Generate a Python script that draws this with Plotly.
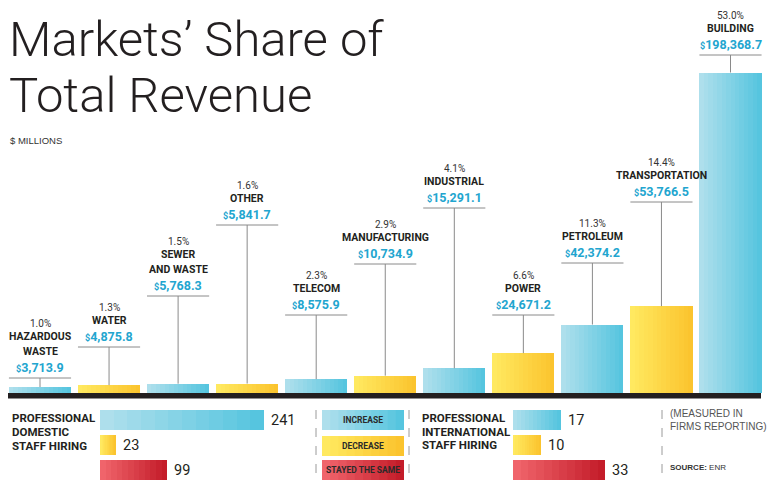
import plotly.graph_objects as go

# ---------------- data ----------------
markets = ["HAZARDOUS WASTE", "WATER", "SEWER AND WASTE", "OTHER", "TELECOM",
           "MANUFACTURING", "INDUSTRIAL", "POWER", "PETROLEUM", "TRANSPORTATION", "BUILDING"]
name_lines = [["HAZARDOUS", "WASTE"], ["WATER"], ["SEWER", "AND WASTE"], ["OTHER"], ["TELECOM"],
              ["MANUFACTURING"], ["INDUSTRIAL"], ["POWER"], ["PETROLEUM"], ["TRANSPORTATION"], ["BUILDING"]]
revenue = [3713.9, 4875.8, 5768.3, 5841.7, 8575.9, 10734.9, 15291.1, 24671.2, 42374.2, 53766.5, 198368.7]
share = [1.0, 1.3, 1.5, 1.6, 2.3, 2.9, 4.1, 6.6, 11.3, 14.4, 53.0]

hiring_rows = ["INCREASE", "DECREASE", "STAYED THE SAME"]
domestic = [241, 23, 99]
international = [17, 10, 33]

# ---------------- style / layout ----------------
W, H = 768, 486
BLUE = ("#56c5df", "#aedfec")   # (dark/right, light/left)
YEL = ("#fbc42e", "#ffe960")
RED = ("#c41d2a", "#f0646b")
palette = [BLUE if i % 2 == 0 else YEL for i in range(len(revenue))]
row_pal = [BLUE, YEL, RED]
CYAN = "#22a5cf"
INK = "#231f20"
COND = "Roboto, Liberation Sans, sans-serif"
SANS = "Liberation Sans, Arial, Helvetica, sans-serif"

BASE_PY, TOP_PY = 393.0, 72.5
S = max(revenue) / (BASE_PY - TOP_PY)
X0_PX, STEP = 40.0, 69.05
BW = 0.9
label_line_px = [378, 347, 296, 225, 315, 264, 208, 315, 263, 202, 55]


def mix(c1, c2, t):
    a = [int(c1[i:i + 2], 16) for i in (1, 3, 5)]
    b = [int(c2[i:i + 2], 16) for i in (1, 3, 5)]
    return "#" + "".join(f"{round(a[j] + (b[j] - a[j]) * t):02x}" for j in range(3))


def py_to_y(py):
    return (BASE_PY - py) * S


def px(x):
    return x / W


def py(y):
    return 1 - y / H


fig = go.Figure()
idx = list(range(len(revenue)))
N = 14
for k in range(N):
    frac = 1 - k / N
    t = k / (N - 1)
    fig.add_trace(go.Bar(
        x=idx, y=revenue, width=BW * frac, offset=-BW / 2,
        marker=dict(color=[mix(p[0], p[1], t) for p in palette], line=dict(width=0)),
        name="Revenue ($ millions)", showlegend=False,
        customdata=markets, hovertemplate="%{customdata}: $%{y:,.1f}M<extra></extra>",
        xaxis="x", yaxis="y"))

rows = [0, 1, 2]
NH = 12
for k in range(NH):
    frac = 1 - k / NH
    t = k / (NH - 1)
    cols = [mix(p[0], p[1], t) for p in row_pal]
    fig.add_trace(go.Bar(y=rows, x=[v * frac for v in domestic], orientation="h", width=0.8,
                         marker=dict(color=cols, line=dict(width=0)), showlegend=False,
                         name="Domestic", hoverinfo="skip", xaxis="x2", yaxis="y2"))
    fig.add_trace(go.Bar(y=rows, x=[v * frac for v in international], orientation="h", width=0.8,
                         marker=dict(color=cols, line=dict(width=0)), showlegend=False,
                         name="International", hoverinfo="skip", xaxis="x3", yaxis="y2"))

shapes = []
ann = []

# baseline
shapes.append(dict(type="rect", xref="paper", yref="paper", x0=px(8), x1=px(761),
                   y0=py(398.5), y1=py(393), fillcolor="#231f20", line=dict(width=0), layer="above"))

# leader lines + labels
for i, v in enumerate(revenue):
    L = label_line_px[i]
    yl = py_to_y(L)
    shapes.append(dict(type="line", xref="x", yref="y", x0=i - BW / 2, x1=i + BW / 2, y0=yl, y1=yl,
                       line=dict(color="#8a8a8a", width=1)))
    shapes.append(dict(type="line", xref="x", yref="y", x0=i, x1=i, y0=yl, y1=v,
                       line=dict(color="#8a8a8a", width=1)))
    ann.append(dict(x=i, y=py_to_y(L - 11), xref="x", yref="y", showarrow=False,
                    text="<span style='font-size:9px'>$</span>" + f"{v:,.1f}",
                    font=dict(family=COND, size=12.5, color=CYAN, weight="bold"),
                    xanchor="center", yanchor="middle"))
    lines = name_lines[i]
    ypos = L - 26.5
    for ln in reversed(lines):
        ann.append(dict(x=i, y=py_to_y(ypos), xref="x", yref="y", showarrow=False, text=ln,
                        font=dict(family=COND, size=10.5, color=INK, weight="bold"),
                        xanchor="center", yanchor="middle"))
        ypos -= 15
    ann.append(dict(x=i, y=py_to_y(ypos + 1.5), xref="x", yref="y", showarrow=False,
                    text=f"{share[i]:.1f}%",
                    font=dict(family=COND, size=10, color="#333333"),
                    xanchor="center", yanchor="middle"))

# title
TITLE_FONT = dict(family="Roboto, Liberation Sans, sans-serif", size=49, color=INK, weight=300)
ann.append(dict(x=px(7), y=py(40), xref="paper", yref="paper", showarrow=False,
                text="Markets’ Share of", xanchor="left", yanchor="middle", font=TITLE_FONT))
ann.append(dict(x=px(7), y=py(95), xref="paper", yref="paper", showarrow=False,
                text="Total Revenue", xanchor="left", yanchor="middle", font=TITLE_FONT))
ann.append(dict(x=px(8), y=py(140), xref="paper", yref="paper", showarrow=False,
                text="$ MILLIONS", xanchor="left", yanchor="middle",
                font=dict(family=SANS, size=9.5, color="#333333")))

# hiring section labels
for j, ln in enumerate(["PROFESSIONAL", "DOMESTIC", "STAFF HIRING"]):
    ann.append(dict(x=px(10), y=py(418 + 14 * j), xref="paper", yref="paper", showarrow=False,
                    text=ln, xanchor="left", yanchor="middle",
                    font=dict(family=COND, size=11.5, color=INK, weight="bold")))
for j, ln in enumerate(["PROFESSIONAL", "INTERNATIONAL", "STAFF HIRING"]):
    ann.append(dict(x=px(420), y=py(418 + 13.5 * j), xref="paper", yref="paper", showarrow=False,
                    text=ln, xanchor="left", yanchor="middle",
                    font=dict(family=COND, size=11.5, color=INK, weight="bold")))

for r, v in zip(rows, domestic):
    ann.append(dict(x=v, y=r, xref="x2", yref="y2", showarrow=False, text=str(v),
                    xanchor="left", yanchor="middle", xshift=5,
                    font=dict(family=COND, size=14.5, color=INK)))
for r, v in zip(rows, international):
    ann.append(dict(x=v, y=r, xref="x3", yref="y2", showarrow=False, text=str(v),
                    xanchor="left", yanchor="middle", xshift=5,
                    font=dict(family=COND, size=14.5, color=INK)))

# legend boxes
box_y = [(410, 430), (436, 456), (460, 480)]
NB = 10
for (y0, y1), pal, lab in zip(box_y, row_pal, hiring_rows):
    for k in range(NB):
        frac = 1 - k / NB
        shapes.append(dict(type="rect", xref="paper", yref="paper",
                           x0=px(322), x1=px(322 + 82 * frac), y0=py(y1), y1=py(y0),
                           fillcolor=mix(pal[0], pal[1], k / (NB - 1)), line=dict(width=0)))
    ann.append(dict(x=px(363), y=py((y0 + y1) / 2), xref="paper", yref="paper", showarrow=False,
                    text=lab, xanchor="center", yanchor="middle",
                    font=dict(family=COND, size=8.5, color="#2a2a2a", weight="bold")))

for xd in (316, 409, 662):
    shapes.append(dict(type="line", xref="paper", yref="paper", x0=px(xd), x1=px(xd),
                       y0=py(410), y1=py(481), line=dict(color="#9a9a9a", width=1, dash="dash")))

ann.append(dict(x=px(668), y=py(413), xref="paper", yref="paper", showarrow=False,
                text="(MEASURED IN", xanchor="left", yanchor="middle",
                font=dict(family=SANS, size=10, color="#555555")))
ann.append(dict(x=px(668), y=py(426), xref="paper", yref="paper", showarrow=False,
                text="FIRMS REPORTING)", xanchor="left", yanchor="middle",
                font=dict(family=SANS, size=10, color="#555555")))
ann.append(dict(x=px(668), y=py(467), xref="paper", yref="paper", showarrow=False,
                text="<b>SOURCE:</b> ENR", xanchor="left", yanchor="middle",
                font=dict(family=SANS, size=8, color="#333333")))

fig.update_layout(
    width=W, height=H, autosize=False,
    margin=dict(l=0, r=0, t=0, b=0),
    paper_bgcolor="white", plot_bgcolor="rgba(0,0,0,0)",
    barmode="overlay", bargap=0,
    showlegend=False,
    xaxis=dict(domain=[0, 1], range=[(0 - X0_PX) / STEP, (W - X0_PX) / STEP], visible=False,
               fixedrange=True),
    yaxis=dict(domain=[0, 1], range=[-(H - BASE_PY) * S, BASE_PY * S], visible=False,
               fixedrange=True),
    xaxis2=dict(domain=[0, 1], range=[(0 - 100) / 0.68, (W - 100) / 0.68], anchor="y2",
                visible=False, fixedrange=True),
    xaxis3=dict(domain=[0, 1], range=[(0 - 513) / 2.8, (W - 513) / 2.8], anchor="y2",
                visible=False, fixedrange=True),
    yaxis2=dict(domain=[0, 1], range=[(H - 420) / 25, (0 - 420) / 25], anchor="x2",
                visible=False, fixedrange=True),
    shapes=shapes, annotations=ann,
)

fig.write_html("out.html", config={"displayModeBar": False},
               post_script="document.body.style.margin='0px';document.body.style.overflow='hidden';")
